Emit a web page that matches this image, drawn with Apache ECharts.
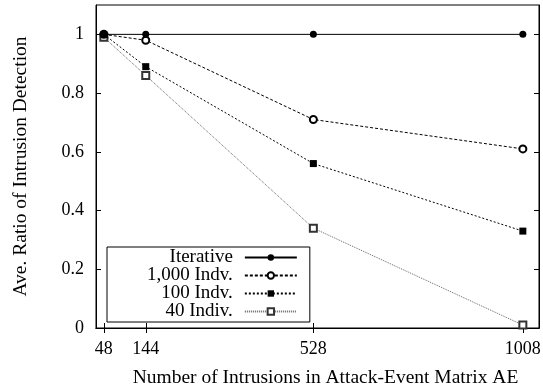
<!DOCTYPE html>
<html>
<head>
<meta charset="utf-8">
<script src="https://cdn.jsdelivr.net/npm/echarts@6/dist/echarts.min.js"></script>
<style>html,body{margin:0;padding:0;background:#fff;}#c{width:543px;height:389px;}</style>
</head>
<body>
<div id="c"></div>
<script>
const xValues = [48, 144, 528, 1008];
const xTickLabels = [48, 144, 528, 1008];
const yTicks = [0, 0.2, 0.4, 0.6, 0.8, 1];
const seriesNames = ['Iterative', '1,000 Indv.', '100 Indv.', '40 Indiv.'];
const iterative = [1, 1, 1, 1];
const indv1000 = [1, 0.98, 0.71, 0.61];
const indv100 = [1, 0.89, 0.56, 0.33];
const indiv40 = [0.99, 0.86, 0.34, 0.01];

const FONT = 'Liberation Serif';
function pairs(vals) { return xValues.map((x, i) => [x, vals[i]]); }

const chart = echarts.init(document.getElementById('c'), null, {renderer: 'canvas'});
const common = {
  type: 'line', xAxisIndex: 0, yAxisIndex: 0, animation: false
};
chart.setOption({
  backgroundColor: '#fff',
  textStyle: {fontFamily: FONT, color: '#000'},
  grid: {left: 96, right: 4, top: 5, bottom: 61, outerBoundsMode: 'none', containLabel: false,
    show: true, borderColor: '#000', borderWidth: 1, backgroundColor: 'transparent'},
  legend: {
    orient: 'vertical', left: 107, top: 247, align: 'right',
    backgroundColor: '#fff', borderColor: '#000', borderWidth: 1,
    padding: [1, 12, 1, 40], itemGap: -1, itemWidth: 52, itemHeight: 8,
    textStyle: {fontFamily: FONT, fontSize: 19, color: '#000', padding: [0, 7, 0, 0]},
    data: seriesNames
  },
  xAxis: [{
    type: 'value', min: 30, max: 1045, position: 'bottom',
    name: 'Number of Intrusions in Attack-Event Matrix AE', nameLocation: 'middle', nameGap: 40,
    nameTextStyle: {fontFamily: FONT, fontSize: 19.5, color: '#000', padding: [0, 0, 0, 16]},
    axisLine: {show: true, lineStyle: {color: '#000'}},
    axisTick: {show: true, inside: true, length: 5, customValues: xTickLabels, lineStyle: {color: '#000'}},
    axisLabel: {customValues: xTickLabels, formatter: v => String(v), fontFamily: FONT, fontSize: 18, color: '#000', margin: 12},
    splitLine: {show: false}
  }, {
    type: 'value', min: 30, max: 1045, position: 'top',
    axisLine: {show: true, lineStyle: {color: '#000'}},
    axisTick: {show: true, inside: true, length: 5, customValues: xTickLabels, lineStyle: {color: '#000'}},
    axisLabel: {show: false}, splitLine: {show: false}
  }],
  yAxis: [{
    type: 'value', min: 0, max: 1.1, position: 'left',
    name: 'Ave. Ratio of Intrusion Detection', nameLocation: 'middle', nameGap: 65,
    nameTextStyle: {fontFamily: FONT, fontSize: 19.5, color: '#000'},
    axisLine: {show: true, lineStyle: {color: '#000'}},
    axisTick: {show: true, inside: true, length: 5, customValues: yTicks, lineStyle: {color: '#000'}},
    axisLabel: {customValues: yTicks, fontFamily: FONT, fontSize: 18, color: '#000', margin: 12},
    splitLine: {show: false}
  }, {
    type: 'value', min: 0, max: 1.1, position: 'right',
    axisLine: {show: true, lineStyle: {color: '#000'}},
    axisTick: {show: true, inside: true, length: 5, customValues: yTicks, lineStyle: {color: '#000'}},
    axisLabel: {show: false}, splitLine: {show: false}
  }],
  series: [
    Object.assign({}, common, {name: seriesNames[0], data: pairs(iterative), symbol: 'circle', symbolSize: 7,
      itemStyle: {color: '#000'}, lineStyle: {color: '#000', width: 1, type: 'solid'}, z: 5}),
    Object.assign({}, common, {name: seriesNames[1], data: pairs(indv1000), symbol: 'emptyCircle', symbolSize: 7,
      itemStyle: {color: '#000', borderColor: '#000', borderWidth: 1}, lineStyle: {color: '#000', width: 1, type: [3, 2]}, z: 4}),
    Object.assign({}, common, {name: seriesNames[2], data: pairs(indv100), symbol: 'rect', symbolSize: 7,
      itemStyle: {color: '#000'}, lineStyle: {color: '#000', width: 1, type: [2, 2]}, z: 3}),
    Object.assign({}, common, {name: seriesNames[3], data: pairs(indiv40), symbol: 'emptyRect', symbolSize: 7,
      itemStyle: {color: '#333', borderColor: '#333', borderWidth: 1}, lineStyle: {color: '#666', width: 1, type: [1, 1]}, z: 2})
  ]
});
</script>
</body>
</html>
